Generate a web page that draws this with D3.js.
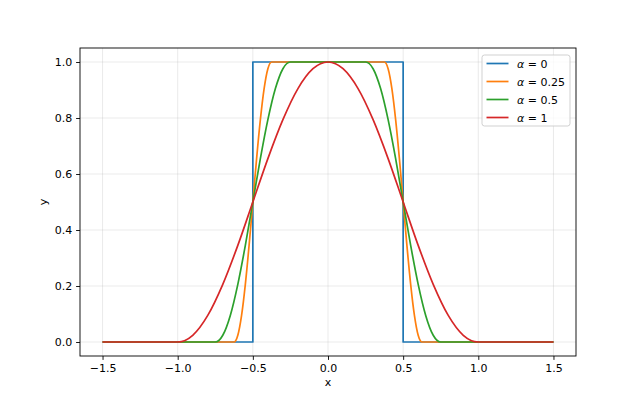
<!DOCTYPE html>
<meta charset="utf-8">
<script src="https://d3js.org/d3.v7.min.js"></script>
<style>
  body { margin: 0; background: #fff; }
  text { font-family: "DejaVu Sans", sans-serif; }
</style>
<div id="my_dataviz"></div>
<script>

// data (raised cosine curves for each roll-off)
var alphas = ["0", "0.25", "0.5", "1"];
var colors = ["#1f77b4", "#ff7f0e", "#2ca02c", "#d62728"];

var x0 = [-1.5, -0.5, -0.5, 0.5, 0.5, 1.5];
var y0 = [0, 0, 1, 1, 0, 0];

var x25 = [-1.5, -0.625, -0.6, -0.575, -0.55, -0.525, -0.5, -0.475, -0.45, -0.425, -0.4, -0.375,
           0.375, 0.4, 0.425, 0.45, 0.475, 0.5, 0.525, 0.55, 0.575, 0.6, 0.625, 1.5];
var y25 = [0, 0, 0.024, 0.095, 0.206, 0.345, 0.5, 0.655, 0.794, 0.905, 0.976, 1,
           1, 0.976, 0.905, 0.794, 0.655, 0.5, 0.345, 0.206, 0.095, 0.024, 0, 0];

var x50 = [-1.5, -0.75, -0.7, -0.65, -0.6, -0.55, -0.5, -0.45, -0.4, -0.35, -0.3, -0.25,
           0.25, 0.3, 0.35, 0.4, 0.45, 0.5, 0.55, 0.6, 0.65, 0.7, 0.75, 1.5];
var y50 = [0, 0, 0.024, 0.095, 0.206, 0.345, 0.5, 0.655, 0.794, 0.905, 0.976, 1,
           1, 0.976, 0.905, 0.794, 0.655, 0.5, 0.345, 0.206, 0.095, 0.024, 0, 0];

var x100 = [-1.5, -1.0, -0.9, -0.8, -0.7, -0.6, -0.5, -0.4, -0.3, -0.2, -0.1, 0,
            0.1, 0.2, 0.3, 0.4, 0.5, 0.6, 0.7, 0.8, 0.9, 1.0, 1.5];
var y100 = [0, 0, 0.024, 0.095, 0.206, 0.345, 0.5, 0.655, 0.794, 0.905, 0.976, 1,
            0.976, 0.905, 0.794, 0.655, 0.5, 0.345, 0.206, 0.095, 0.024, 0, 0];

var xTicks = [-1.5, -1.0, -0.5, 0.0, 0.5, 1.0, 1.5];
var yTicks = [0.0, 0.2, 0.4, 0.6, 0.8, 1.0];

var series = [
  {xs: x0, ys: y0, curve: d3.curveLinear},
  {xs: x25, ys: y25, curve: d3.curveMonotoneX},
  {xs: x50, ys: y50, curve: d3.curveMonotoneX},
  {xs: x100, ys: y100, curve: d3.curveMonotoneX}
];

var W = 640, H = 400;
var margin = {top: 48, right: 64, bottom: 44, left: 80},
    width = W - margin.left - margin.right,
    height = H - margin.top - margin.bottom;

var svg = d3.select("#my_dataviz")
  .append("svg")
    .attr("width", W)
    .attr("height", H)
  .append("g")
    .attr("transform", "translate(" + margin.left + "," + margin.top + ")");

var x = d3.scaleLinear().domain([-1.65, 1.65]).range([0, width]);
var y = d3.scaleLinear().domain([-0.05, 1.05]).range([height, 0]);

// grid
svg.append("g").selectAll("line").data(xTicks).enter().append("line")
  .attr("x1", function(d) { return x(d); }).attr("x2", function(d) { return x(d); })
  .attr("y1", 0).attr("y2", height)
  .style("stroke", "#b0b0b0").style("stroke-opacity", 0.3).style("stroke-width", 0.9);
svg.append("g").selectAll("line").data(yTicks).enter().append("line")
  .attr("y1", function(d) { return y(d); }).attr("y2", function(d) { return y(d); })
  .attr("x1", 0).attr("x2", width)
  .style("stroke", "#b0b0b0").style("stroke-opacity", 0.3).style("stroke-width", 0.9);

// lines
var clip = svg.append("clipPath").attr("id", "clip")
  .append("rect").attr("width", width).attr("height", height);

series.forEach(function(s, i) {
  var pts = s.xs.map(function(v, j) { return [v, s.ys[j]]; });
  svg.append("path")
    .datum(pts)
    .attr("clip-path", "url(#clip)")
    .attr("fill", "none")
    .attr("stroke", colors[i])
    .attr("stroke-width", 1.7)
    .attr("stroke-linejoin", "round")
    .attr("d", d3.line().curve(s.curve)
      .x(function(d) { return x(d[0]); })
      .y(function(d) { return y(d[1]); }));
});

// axes
var fmt = function(d) { return d3.format(".1f")(d).replace("-", "\u2212"); };
var xAxis = svg.append("g")
  .attr("transform", "translate(0," + height + ")")
  .call(d3.axisBottom(x).tickValues(xTicks).tickFormat(fmt).tickSize(3.9).tickPadding(3.9));
var yAxis = svg.append("g")
  .call(d3.axisLeft(y).tickValues(yTicks).tickFormat(fmt).tickSize(3.9).tickPadding(3.9));
[xAxis, yAxis].forEach(function(a) {
  a.select(".domain").remove();
  a.selectAll("line").style("stroke", "#000").style("stroke-width", 0.9);
  a.selectAll("text").style("font-size", "11px").style("font-family", "DejaVu Sans").style("fill", "#000");
});

// frame
svg.append("rect")
  .attr("width", width).attr("height", height)
  .attr("fill", "none").attr("stroke", "#000").attr("stroke-width", 0.9);

// axis labels
svg.append("text")
  .attr("x", width / 2).attr("y", height + 30)
  .attr("text-anchor", "middle")
  .style("font-size", "11px")
  .text("x");
svg.append("text")
  .attr("transform", "translate(" + (-33) + "," + (height / 2) + ") rotate(-90)")
  .attr("text-anchor", "middle")
  .style("font-size", "11px")
  .text("y");

// legend
var lg = svg.append("g").attr("transform", "translate(" + (482 - margin.left) + "," + (55 - margin.top) + ")");
lg.append("rect")
  .attr("width", 88).attr("height", 71).attr("rx", 2.5)
  .attr("fill", "#fff").attr("fill-opacity", 0.8)
  .attr("stroke", "#cccccc").attr("stroke-width", 0.9);
alphas.forEach(function(a, i) {
  var yy = 8.5 + i * 18;
  lg.append("line")
    .attr("x1", 4.5).attr("x2", 26.5).attr("y1", yy).attr("y2", yy)
    .attr("stroke", colors[i]).attr("stroke-width", 1.7);
  var t = lg.append("text")
    .attr("x", 35).attr("y", yy + 4)
    .style("font-size", "11px");
  t.append("tspan").style("font-style", "italic").text("\u03b1");
  t.append("tspan").text(" = " + a);
});

</script>
